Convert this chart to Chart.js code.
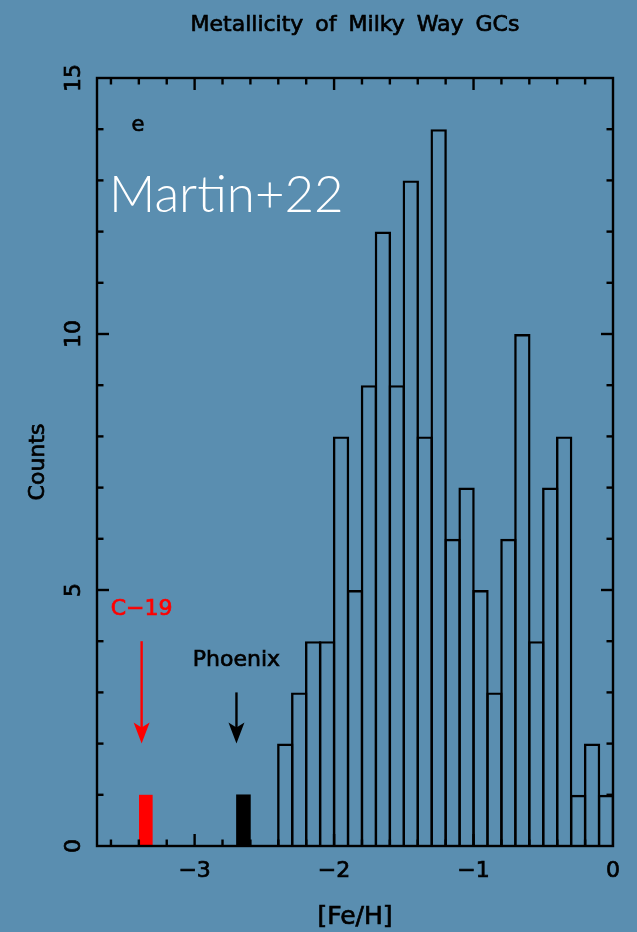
<!DOCTYPE html>
<html>
<head>
<meta charset="utf-8">
<script src="https://cdn.jsdelivr.net/npm/chart.js@4/dist/chart.umd.min.js"></script>
<style>
  html,body{margin:0;padding:0;background:#5a8eb0;}
  #wrap{width:637px;height:932px;}
</style>
</head>
<body>
<div id="wrap"><canvas id="c" width="637" height="932"></canvas></div>
<script>
// Histogram of Milky Way GC metallicities (bin centres, width 0.1 dex)
const binCentres = [-2.35,-2.25,-2.15,-2.05,-1.95,-1.85,-1.75,-1.65,-1.55,-1.45,-1.35,-1.25,
                    -1.15,-1.05,-0.95,-0.85,-0.75,-0.65,-0.55,-0.45,-0.35,-0.25,-0.15,-0.05];
const gcCounts = [2,3,4,4,8,5,9,12,9,13,8,14,6,7,5,3,6,10,4,7,8,1,2,1];

// the two highlighted clusters
const c19Bin = [-3.35];
const c19Count = [1];
const phoenixBin = [-2.65];
const phoenixCount = [1];

// axis ticks
const xTickValues = [-3,-2,-1,0];
const xTickLabels = ['\u22123','\u22122','\u22121','0'];
const yTickValues = [0,5,10,15];
const yTickLabels = ['0','5','10','15'];

// annotations: [Fe/H] of arrow, label height, arrow top / tip (counts)
const c19Mark = {x:-3.38, label:4.63, top:4.0, tip:2.0};
const phoenixMark = {x:-2.70, label:3.63, top:3.0, tip:2.0};

const BG = '#5a8eb0';
const FONT = '"DejaVu Sans", sans-serif';

function pts(xs, ys){ return xs.map((x,i)=>({x:x, y:ys[i]})); }

// background, frame, inward ticks, labels and arrows (PGPLOT look)
const pgFrame = {
  id:'pgFrame',
  beforeDraw(chart){
    const ctx = chart.ctx;
    ctx.save();
    ctx.fillStyle = BG;
    ctx.fillRect(0,0,chart.width,chart.height);
    ctx.restore();
  },
  afterDatasetsDraw(chart){
    const {ctx, chartArea:a, scales:{x,y}} = chart;
    ctx.save();
    ctx.strokeStyle = '#000';
    ctx.lineWidth = 2.4;
    ctx.lineCap = 'butt';
    ctx.strokeRect(a.left, a.top, a.right-a.left, a.bottom-a.top);

    function seg(x1,y1,x2,y2){ ctx.beginPath(); ctx.moveTo(x1,y1); ctx.lineTo(x2,y2); ctx.stroke(); }
    // thick-pen text, like the plotting package's stroked fonts
    function txt(s, px, py, colour){
      ctx.fillStyle = colour;
      ctx.strokeStyle = colour;
      ctx.lineWidth = 0.7;
      ctx.fillText(s, px, py);
      ctx.strokeText(s, px, py);
    }

    // x ticks: minor every 0.2, major every 1
    for(let v=-3.6; v<-0.01; v+=0.2){
      const px = x.getPixelForValue(v);
      const major = Math.abs(v-Math.round(v))<1e-6;
      const len = major ? 12 : 6.5;
      seg(px, a.bottom, px, a.bottom-len);
      seg(px, a.top, px, a.top+len);
    }
    // y ticks: minor every 1, major every 5
    for(let v=1; v<15; v++){
      const py = y.getPixelForValue(v);
      const len = v%5===0 ? 12 : 6.5;
      seg(a.left, py, a.left+len, py);
      seg(a.right, py, a.right-len, py);
    }

    ctx.font = '22px '+FONT;
    ctx.textAlign = 'center';
    ctx.textBaseline = 'alphabetic';
    xTickValues.forEach((v,i)=>{
      txt(xTickLabels[i], x.getPixelForValue(v), a.bottom+31, '#000');
    });
    yTickValues.forEach((v,i)=>{
      ctx.save();
      ctx.translate(a.left-17, y.getPixelForValue(v));
      ctx.rotate(-Math.PI/2);
      txt(yTickLabels[i], 0, 0, '#000');
      ctx.restore();
    });

    // axis titles
    ctx.save();
    ctx.translate(44, (a.top+a.bottom)/2);
    ctx.rotate(-Math.PI/2);
    txt('Counts', 0, 0, '#000');
    ctx.restore();
    ctx.font = '25px '+FONT;
    txt('[Fe/H]', (a.left+a.right)/2, a.bottom+78, '#000');

    // title
    ctx.font = '22px '+FONT;
    ctx.wordSpacing = '5px';
    txt('Metallicity of Milky Way GCs', (a.left+a.right)/2, 31, '#000');
    ctx.wordSpacing = '0px';

    // panel letter
    ctx.font = '21px '+FONT;
    txt('e', a.left+41, a.top+53, '#000');

    // arrows and names
    function arrow(m, colour){
      const px = x.getPixelForValue(m.x);
      const y0 = y.getPixelForValue(m.top);
      const y1 = y.getPixelForValue(m.tip);
      ctx.strokeStyle = colour;
      ctx.fillStyle = colour;
      ctx.lineWidth = 2.4;
      seg(px, y0, px, y1-6);
      ctx.beginPath();
      ctx.moveTo(px, y1);
      ctx.lineTo(px-8, y1-21);
      ctx.lineTo(px, y1-16);
      ctx.lineTo(px+8, y1-21);
      ctx.closePath();
      ctx.fill();
    }
    arrow(c19Mark, '#ff0000');
    arrow(phoenixMark, '#000000');
    ctx.textBaseline = 'middle';
    ctx.font = '22px '+FONT;
    txt('C\u221219', x.getPixelForValue(c19Mark.x), y.getPixelForValue(c19Mark.label), '#ff0000');
    txt('Phoenix', x.getPixelForValue(phoenixMark.x), y.getPixelForValue(phoenixMark.label), '#000');

    // overlay credit
    ctx.textAlign = 'left';
    ctx.textBaseline = 'alphabetic';
    ctx.fillStyle = '#ffffff';
    ctx.font = '300 51px Lato, "Open Sans", sans-serif';
    ctx.fillText('Martin+22', a.left+12, 212);
    ctx.restore();
  }
};

new Chart(document.getElementById('c'), {
  type:'bar',
  data:{
    datasets:[
      {label:'GCs', data:pts(binCentres, gcCounts), backgroundColor:'rgba(0,0,0,0)',
       borderColor:'#000', borderWidth:2.4, barPercentage:1.172, categoryPercentage:1, grouped:false},
      {label:'C-19', data:pts(c19Bin, c19Count), backgroundColor:'#ff0000',
       borderWidth:0, barPercentage:0.98, categoryPercentage:1, grouped:false},
      {label:'Phoenix', data:pts(phoenixBin, phoenixCount), backgroundColor:'#000',
       borderWidth:0, barPercentage:1, categoryPercentage:1, grouped:false}
    ]
  },
  options:{
    responsive:false,
    animation:false,
    events:[],
    layout:{padding:{left:97, top:78, right:24, bottom:86}},
    plugins:{legend:{display:false}, tooltip:{enabled:false}, title:{display:false}},
    scales:{
      x:{type:'linear', min:-3.7, max:0, offset:false, display:false, ticks:{stepSize:0.2}},
      y:{min:0, max:15, display:false}
    }
  },
  plugins:[pgFrame]
});
</script>
</body>
</html>
